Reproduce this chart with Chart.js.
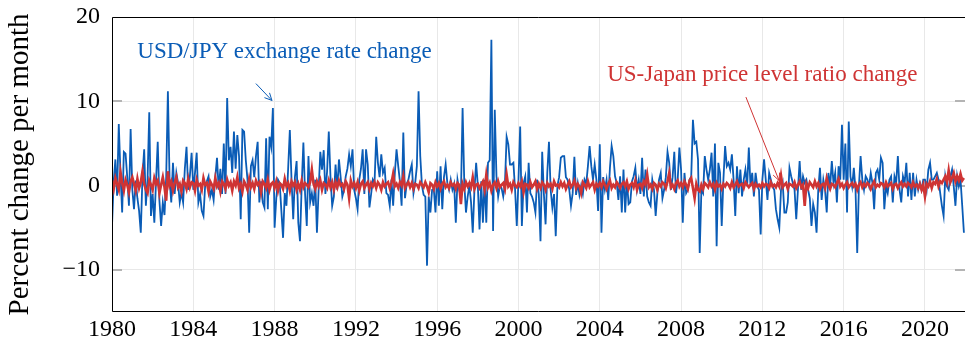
<!DOCTYPE html>
<html lang="en">
<head>
<meta charset="UTF-8" />
<title>USD/JPY vs US-Japan price level ratio</title>
<script src="https://cdn.jsdelivr.net/npm/chart.js"></script>
<style>
  body { margin: 0; background: #fff; }
</style>
</head>
<body>
<canvas id="fxChart" width="965" height="344"></canvas>
<script>
  // monthly series, Jan 1980 onwards, one row per year
  const startYear = 1980;
  const xTickYears = [1980, 1984, 1988, 1992, 1996, 2000, 2004, 2008, 2012, 2016, 2020];
  const yTickValues = [-10, 0, 10, 20];

  const usdJpy1980s = [
    -4.8, 0.5, 3.1, -1.2, 7.3, 1.5, -3.2, 4.0, 3.8, 1.0, -2.4, 6.7,
    -0.5, -2.8, 0.6, -1.5, -3.0, -5.6, 1.2, 4.3, -2.4, 0.8, 8.7, -3.6,
    -1.0, -4.4, 0.5, 5.2, -1.8, -4.8, -2.0, -3.5, 1.0, 11.2, 0.7, -2.0,
    2.7, -1.0, 1.5, 0.3, -2.0, -0.8, -2.0, 2.0, 4.6, -0.5, 1.2, 3.9,
    -0.5, 1.5, 3.9, -2.0, -1.0, -3.0, -3.6, 0.0, 0.5, 1.1, -1.3, -0.5,
    -1.7, 1.0, 3.3, -0.5, 2.0, -1.0, 5.0, -1.0, 10.4, 3.0, 4.6, 1.5,
    6.4, 2.0, 6.0, 3.5, -4.0, 6.6, 6.4, 3.0, 0.7, -5.6, 2.3, 3.0,
    1.0, 3.5, 5.2, -2.0, 0.5, -2.0, -2.6, 5.6, -2.8, 5.8, 4.6, 9.2,
    -5.0, -1.5, 0.7, 0.3, -3.0, -6.2, -0.9, -2.4, 2.0, 6.6, 0.7, -4.0,
    1.0, 2.9, -4.4, -6.6, 0.0, 5.1, -1.0, -4.8, 3.5, -2.0, -0.9, -2.4
  ];
  const usdJpy1990s = [
    0.7, -5.6, -0.5, 4.0, 1.9, 4.2, -1.0, 1.7, 6.4, 1.0, -2.4, -1.3,
    2.5, -0.5, 3.1, 1.0, -1.3, -0.5, 1.1, 2.0, 3.7, 2.3, 4.3, -0.5,
    -1.5, -2.8, 0.7, 2.0, 4.3, -1.0, 4.3, 2.5, -2.6, -1.0, 0.7, 0.3,
    5.8, 2.7, 1.0, 3.7, 1.5, 2.1, -0.9, -1.1, -2.4, 0.7, -2.4, 1.5,
    4.3, 2.3, 0.5, -2.4, 6.3, -1.5, 0.2, 0.7, 1.7, 2.5, -0.9, 0.3,
    2.3, 11.2, 3.5, 0.0, -1.1, -1.3, -9.5, -1.3, -3.2, -0.5, -0.4, -3.2,
    1.7, -2.4, 2.3, -2.8, 1.0, 2.5, 0.3, -0.5, 0.7, -0.5, 0.2, -4.4,
    0.7, -0.5, -1.3, 9.2, 0.3, -3.2, -1.3, 0.0, -2.0, -5.6, -0.5, 2.7,
    0.0, -5.2, 0.5, -4.4, 0.7, -4.4, 2.7, 3.0, 17.3, -5.4, 9.0, 1.1,
    -1.3, 0.0, -0.3, -1.3, 0.2, 5.8, 4.9, 2.5, 2.5, 2.7, -0.5, -4.8
  ];
  const usdJpy2000s = [
    0.7, 7.0, -4.8, 0.3, 1.1, -3.2, 2.7, -0.9, -1.3, -2.0, -3.2, 0.7,
    -1.0, -6.6, 4.0, -1.0, -4.6, 1.5, 5.2, -0.5, -2.6, -1.0, -6.0, 0.0,
    1.0, 3.3, 3.5, 3.5, 1.0, 0.7, -0.5, -2.4, -0.9, 3.4, -1.1, 0.3,
    -1.1, 0.0, -1.0, 0.7, 0.2, 2.3, 4.7, 2.3, 0.7, 2.5, 0.7, -3.0,
    4.9, -5.6, 1.0, -0.5, 0.7, -1.7, 2.1, 4.7, 3.5, 1.1, 0.3, -1.7,
    1.1, -3.2, 1.9, -3.2, 0.7, -2.2, -2.0, 0.5, 1.1, 2.1, -0.5, 0.7,
    -1.0, 3.3, -1.3, 1.9, -1.3, -2.0, -2.4, 0.7, -0.5, -3.6, -0.9, 0.7,
    1.5, -1.5, -0.5, 1.0, 4.0, 2.7, -0.5, 1.0, 4.0, -0.9, 0.7, 4.5,
    1.9, -4.4, 1.5, -0.9, -0.5, 0.7, 1.1, 7.8, 5.0, 5.2, 3.1, -8.0,
    -0.5, -0.9, 3.5, 1.9, 0.7, 1.9, 3.9, -1.3, 5.0, -7.2, 2.7, 1.5
  ];
  const usdJpy2010s = [
    -4.8, 0.7, 4.7, 2.3, 2.7, 1.9, 3.7, 0.7, -3.6, 2.3, -0.9, 1.9,
    -1.3, 0.7, 1.9, -0.1, 4.5, -0.1, 1.5, -1.3, 1.5, -0.1, -0.5, -5.8,
    0.7, 3.1, 0.7, -1.7, 1.5, 0.7, -0.1, -0.5, -2.8, -4.0, -5.0, -0.5,
    0.3, -3.2, -3.2, -2.0, 2.1, 1.1, 0.3, -0.5, -4.0, -0.5, 2.9, -0.5,
    1.1, 0.3, 0.7, -0.5, -1.5, -4.8, -2.2, -3.2, -5.6, -0.5, 2.1, -1.7,
    0.7, -0.5, -3.2, 1.5, -0.1, 2.9, 0.3, 1.5, -2.0, 2.3, 0.7, 7.2,
    0.7, 5.0, -3.2, 7.6, 1.1, -0.1, 2.1, -0.5, -8.0, -0.1, 3.5, 0.7,
    -0.5, 1.1, 0.7, -0.1, 1.5, 0.3, -2.8, 1.5, 1.9, 0.7, 3.3, 2.7,
    -2.8, -0.1, -0.9, 0.7, 1.1, -2.0, 1.1, 0.3, 3.5, -0.5, -2.0, 1.1,
    0.3, 2.7, -1.3, 1.5, -1.7, 1.5, -1.3, 0.7, -0.5, 0.3, -0.5, 0.7
  ];
  const usdJpy2020s = [
    0.7, -0.5, 1.9, 2.7, 0.7, 0.7, 1.1, 1.5, 0.7, -0.9, -2.4, -3.6,
    1.1, -0.1, -0.5, 1.1, 1.9, -0.1, -2.4, 1.1, -0.1, 0.7, -2.4, -5.6
  ];

  const priceRatio1980s = [
    0.6, -0.4, 0.9, 0.2, -0.5, 1.6, 0.3, -0.6, 0.7, 0.1, -0.8, 0.5,
    1.0, 0.2, -0.6, 0.8, -0.3, 0.4, 1.7, 0.2, -0.5, -0.9, 0.6, 0.1,
    -0.5, 0.9, 0.2, 0.6, -0.9, 0.1, 1.0, -0.2, -1.8, 1.7, 0.0, 0.5,
    -0.6, 0.3, 1.0, -0.2, 0.2, -0.7, 0.6, 0.3, -0.4, 0.8, -0.2, 0.4,
    0.3, -0.6, 0.7, 0.0, 0.2, -0.5, 0.9, 0.1, 0.3, -0.7, 0.5, 0.1,
    -0.4, 0.9, -0.1, 0.3, -0.7, 0.5, 0.2, -0.4, 0.7, 0.0, 0.4, -0.6,
    0.5, 0.0, 1.0, -0.3, 0.2, -0.7, 0.5, 0.1, -0.5, 0.8, -0.2, 0.3,
    -0.4, 0.6, 0.1, 0.4, -0.8, 0.5, 0.2, -0.3, 0.7, -0.5, 0.2, 0.4,
    -0.3, 0.5, -0.6, 0.3, 0.1, -0.4, 0.8, -0.1, 0.3, -0.6, 0.5, 0.0,
    0.4, -0.5, 0.2, -0.5, 0.6, -0.2, 0.3, 0.1, -0.2, 0.4, 1.9, 0.2
  ];
  const priceRatio1990s = [
    -0.4, 0.5, -0.1, 0.6, -0.5, 0.3, 0.1, -0.3, 0.6, -0.2, 0.4, -0.5,
    0.4, -0.2, 0.6, 0.0, 0.2, -0.4, 0.5, 0.1, -1.5, 0.6, -0.1, 0.3,
    -0.3, 0.4, -0.6, 0.2, 0.5, -0.3, 0.1, 0.4, -0.4, 0.3, -0.1, 0.4,
    -0.3, 0.4, 0.1, -0.5, 0.4, -0.1, 0.2, 0.4, -0.3, 0.3, 1.4, -0.1,
    0.2, -0.3, 0.4, 0.0, 1.1, -0.3, 0.1, 0.4, -0.2, 0.3, -0.4, 0.2,
    0.1, -0.3, 0.4, 0.1, -0.2, 0.4, -0.1, -0.8, 0.3, 0.1, -0.4, 0.4,
    -0.1, 0.3, -0.4, 0.2, 0.5, -0.2, 0.1, -0.3, 0.4, 0.0, 0.2, -0.4,
    0.3, 0.1, -2.2, 0.2, -0.4, 0.4, -0.1, 0.3, -0.2, 1.0, -0.4, 0.1,
    0.2, -0.3, 0.1, 0.5, -0.5, 1.3, -0.2, 0.3, -0.6, 0.1, 0.4, -0.3,
    0.5, -0.2, 0.1, 0.3, -0.4, 1.3, -0.1, 0.2, -0.5, 0.4, 0.0, -0.2
  ];
  const priceRatio2000s = [
    0.3, -0.1, 0.5, -0.8, 0.2, 0.1, -0.3, 0.4, -0.2, 0.1, 0.5, -0.4,
    0.2, -0.3, 0.4, 0.1, -0.5, 0.3, -0.1, 0.2, -0.4, 0.5, 0.0, 0.1,
    -0.2, 0.4, -0.1, 0.3, -0.4, 0.1, 0.5, -0.2, 0.1, 0.6, -0.3, 0.2,
    -0.1, -0.9, 0.4, 0.1, -0.3, 0.5, -0.2, 0.1, 0.4, -0.5, 0.2, -0.1,
    0.3, -0.2, 0.5, 0.1, -0.4, 0.2, 0.6, -0.3, 0.1, -0.2, 0.4, 0.1,
    -0.3, 0.2, 0.4, -0.1, 0.5, -0.4, 0.1, 0.3, -0.2, 0.6, -0.5, 0.1,
    0.2, -0.3, 0.5, 0.1, 1.3, -0.2, 0.1, -0.4, 0.3, 0.1, -0.5, 0.2,
    -0.1, 0.4, 0.2, -0.3, 0.5, 1.5, -0.2, 0.1, -0.4, 0.3, 0.6, -0.1,
    0.3, -0.2, 0.5, 0.1, -0.4, 0.6, 0.9, -0.3, -1.5, 0.2, -0.5, -0.7,
    0.1, -0.4, 0.3, 0.1, -0.2, 0.4, -0.1, 0.2, -0.5, 0.3, -0.1, 0.1
  ];
  const priceRatio2010s = [
    -0.4, 0.2, -0.1, 0.3, 0.1, -0.3, 0.4, -0.2, 0.1, 0.5, -0.1, 0.1,
    0.2, -0.3, 0.4, 0.1, -0.2, 0.1, 0.3, -0.4, 0.2, -0.1, 0.1, -0.2,
    0.3, -0.1, 0.2, 0.1, -0.3, 0.4, -0.1, 0.1, -0.2, 0.3, -0.1, 1.2,
    -0.2, 0.1, 0.3, -0.4, 0.2, 0.1, -0.1, 0.4, -0.3, 0.1, 0.5, -0.2,
    0.1, -2.4, 0.2, -0.3, 0.4, 0.1, -0.2, 0.5, -0.1, 0.3, -0.4, 0.1,
    0.2, -0.3, 0.9, 0.1, -0.4, 0.2, 0.1, -0.2, 0.3, 0.8, -0.1, 0.2,
    -0.3, 0.1, 0.4, -0.2, 0.1, 0.3, -0.1, 0.2, -0.5, 0.1, 0.4, -0.2,
    0.2, -0.1, 0.3, 0.1, -0.4, 0.1, 0.5, -0.2, 0.1, -0.1, 0.3, 0.2,
    -0.2, 0.4, -0.1, 0.1, 0.3, -0.4, 0.1, 0.2, -0.3, 0.1, 0.4, -0.1,
    0.2, -0.1, 0.3, 0.1, -0.2, 0.4, -0.1, 0.1, -0.3, 0.2, -0.5, 0.1
  ];
  const priceRatio2020s = [
    -1.3, 0.2, -0.1, 0.5, -0.3, 0.4, 0.2, 0.8, -0.1, 0.5, 0.3, 0.7,
    1.1, 0.4, 1.8, 0.4, 0.9, 1.5, 0.5, 1.1, 0.6, 1.4, 0.6, 0.9
  ];

  const usdJpyChange = [].concat(usdJpy1980s, usdJpy1990s, usdJpy2000s, usdJpy2010s, usdJpy2020s);
  const priceRatioChange = [].concat(priceRatio1980s, priceRatio1990s, priceRatio2000s, priceRatio2010s, priceRatio2020s);

  const toPoints = arr => arr.map((v, i) => ({ x: startYear + i / 12, y: v }));

  const BLUE = "#0a5cb6";
  const RED = "#cf3434";
  const SERIF = "'Liberation Serif', 'Times New Roman', serif";

  // text labels with arrows, placed in data units
  const notes = [
    { text: "USD/JPY exchange rate change", color: BLUE, x: 1988.49, y: 15.9, from: [1987.08, 12.1], to: [1987.87, 10.1] },
    { text: "US-Japan price level ratio change", color: RED, x: 2012.0, y: 13.1, from: [2011.19, 10.5], to: [2012.82, 0.6] }
  ];

  const framePlugin = {
    id: "frame",
    beforeDatasetsDraw(chart) {
      const { ctx, chartArea: a, scales: { y } } = chart;
      ctx.save();
      ctx.strokeStyle = "#b4b4b4";
      ctx.lineWidth = 2;
      [-10, 0, 10].forEach(v => {
        const py = Math.round(y.getPixelForValue(v));
        ctx.beginPath();
        ctx.moveTo(a.left, py); ctx.lineTo(a.left + 10, py);
        ctx.moveTo(a.right - 10, py); ctx.lineTo(a.right, py);
        ctx.stroke();
      });
      ctx.restore();
    },
    afterDatasetsDraw(chart) {
      const { ctx, chartArea: a, scales: { x, y } } = chart;
      ctx.save();
      ctx.strokeStyle = "#000";
      ctx.lineWidth = 1;
      ctx.beginPath();
      ctx.moveTo(a.right, a.top + 0.5);
      ctx.lineTo(a.left + 0.5, a.top + 0.5);
      ctx.lineTo(a.left + 0.5, a.bottom - 0.5);
      ctx.lineTo(a.right, a.bottom - 0.5);
      ctx.stroke();

      notes.forEach(n => {
        ctx.fillStyle = n.color;
        ctx.strokeStyle = n.color;
        ctx.font = "23px " + SERIF;
        ctx.textAlign = "center";
        ctx.textBaseline = "middle";
        ctx.fillText(n.text, x.getPixelForValue(n.x), y.getPixelForValue(n.y));

        const x0 = x.getPixelForValue(n.from[0]), y0 = y.getPixelForValue(n.from[1]);
        const x1 = x.getPixelForValue(n.to[0]), y1 = y.getPixelForValue(n.to[1]);
        const ang = Math.atan2(y1 - y0, x1 - x0);
        ctx.lineWidth = 1;
        ctx.beginPath();
        ctx.moveTo(x0, y0); ctx.lineTo(x1, y1);
        ctx.moveTo(x1 - 8 * Math.cos(ang - 0.45), y1 - 8 * Math.sin(ang - 0.45));
        ctx.lineTo(x1, y1);
        ctx.lineTo(x1 - 8 * Math.cos(ang + 0.45), y1 - 8 * Math.sin(ang + 0.45));
        ctx.stroke();
      });
      ctx.restore();
    }
  };

  new Chart(document.getElementById("fxChart"), {
    type: "line",
    data: {
      datasets: [
        {
          label: "US-Japan price level ratio change",
          data: toPoints(priceRatioChange),
          borderColor: RED,
          borderWidth: 2.6,
          pointRadius: 0,
          tension: 0,
          order: 0
        },
        {
          label: "USD/JPY exchange rate change",
          data: toPoints(usdJpyChange),
          borderColor: BLUE,
          borderWidth: 1.8,
          pointRadius: 0,
          tension: 0,
          order: 1
        }
      ]
    },
    options: {
      responsive: false,
      animation: false,
      devicePixelRatio: 1,
      layout: { padding: { top: 17, right: 0, bottom: 0, left: 0 } },
      plugins: { legend: { display: false }, tooltip: { enabled: false } },
      scales: {
        x: {
          type: "linear",
          min: 1980,
          max: 2021.97,
          afterBuildTicks: s => { s.ticks = xTickYears.map(v => ({ value: v })); },
          afterFit: s => { s.height = 32; },
          ticks: {
            callback: v => String(v),
            font: { family: SERIF, size: 24 },
            color: "#000",
            padding: 3,
            maxRotation: 0,
            autoSkip: false
          },
          grid: { color: "#e8e8e8", drawTicks: false },
          border: { display: false }
        },
        y: {
          min: -15,
          max: 20,
          afterBuildTicks: s => { s.ticks = yTickValues.map(v => ({ value: v })); },
          afterFit: s => { s.width = 112; s.paddingTop = 0; s.paddingBottom = 0; },
          ticks: {
            callback: v => (v < 0 ? "\u2212" + Math.abs(v) : String(v)),
            font: { family: SERIF, size: 24 },
            color: "#000",
            padding: 12
          },
          grid: { color: "#e8e8e8", drawTicks: false },
          border: { display: false },
          title: {
            display: true,
            text: "Percent change per month",
            font: { family: SERIF, size: 29 },
            color: "#000",
            padding: { top: 3, bottom: 0 }
          }
        }
      }
    },
    plugins: [framePlugin]
  });
</script>
</body>
</html>
